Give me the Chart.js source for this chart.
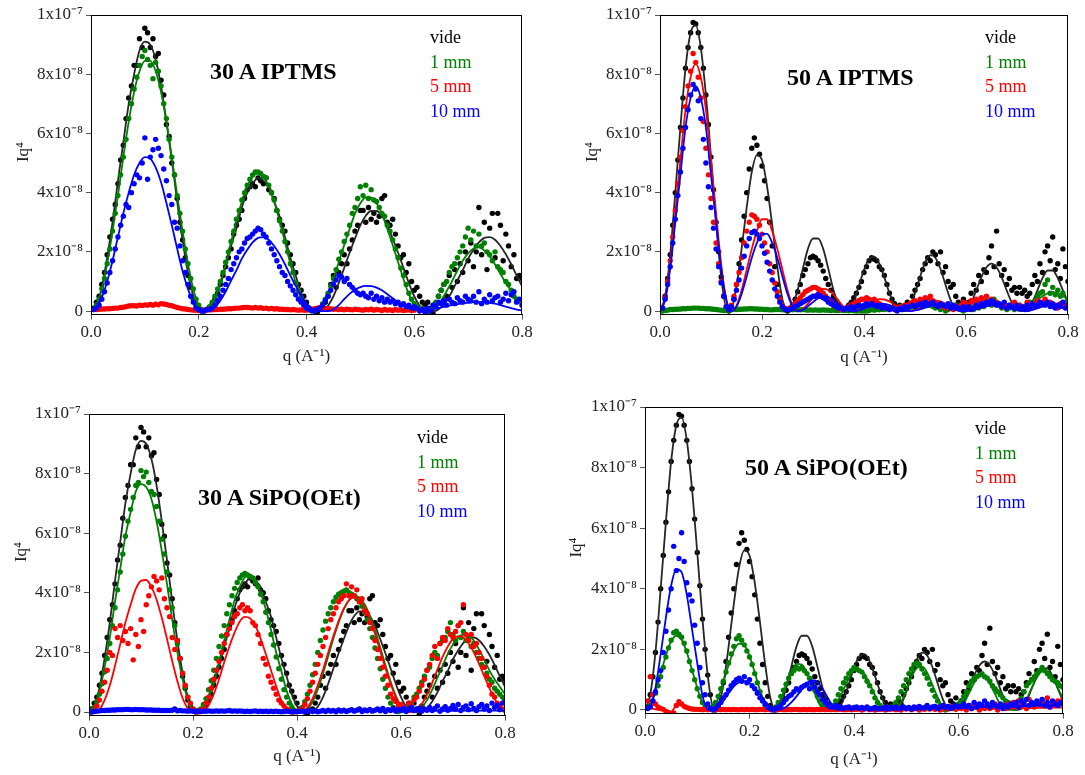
<!DOCTYPE html>
<html><head><meta charset="utf-8">
<script src="https://cdn.jsdelivr.net/npm/chart.js@4.4.1/dist/chart.umd.min.js"></script>
<style>
html,body{margin:0;padding:0;background:#fff;}
body{width:1085px;height:775px;position:relative;overflow:hidden;font-family:"Liberation Serif","Times New Roman",serif;}
canvas{position:absolute;}
.lbl{position:absolute;white-space:nowrap;line-height:1;transform:translateY(-50%);}
.ttl{font-weight:bold;font-size:24px;color:#000;}
.leg{font-size:18px;}
</style></head><body>
<script>
// ---------- DATA (y values in units of 1e-8) ----------
const xTickVals = [0, 0.2, 0.4, 0.6, 0.8];
const xTickLabels = ['0.0', '0.2', '0.4', '0.6', '0.8'];
const yTickVals = [0, 2, 4, 6, 8, 10];
const yTickLabels = ['0', '2x10⁻⁸', '4x10⁻⁸', '6x10⁻⁸', '8x10⁻⁸', '1x10⁻⁷'];
const seriesNames = ['vide', '1 mm', '5 mm', '10 mm'];
const panelTitles = ['30 A IPTMS', '50 A IPTMS', '30 A SiPO(OEt)', '50 A SiPO(OEt)'];

// q of measured points
const qPts = [
0.005,0.01,0.015,0.02,0.025,0.03,0.035,0.04,0.045,0.05,
0.055,0.06,0.065,0.07,0.075,0.08,0.085,0.09,0.095,0.1,
0.105,0.11,0.115,0.12,0.125,0.13,0.135,0.14,0.145,0.15,
0.155,0.16,0.165,0.17,0.175,0.18,0.185,0.19,0.195,0.2,
0.205,0.21,0.215,0.22,0.225,0.23,0.235,0.24,0.245,0.25,
0.255,0.26,0.265,0.27,0.275,0.28,0.285,0.29,0.295,0.3,
0.305,0.31,0.315,0.32,0.325,0.33,0.335,0.34,0.345,0.35,
0.355,0.36,0.365,0.37,0.375,0.38,0.385,0.39,0.395,0.4,
0.405,0.41,0.415,0.42,0.425,0.43,0.435,0.44,0.445,0.45,
0.455,0.46,0.465,0.47,0.475,0.48,0.485,0.49,0.495,0.5,
0.505,0.51,0.515,0.52,0.525,0.53,0.535,0.54,0.545,0.55,
0.555,0.56,0.565,0.57,0.575,0.58,0.585,0.59,0.595,0.6,
0.605,0.61,0.615,0.62,0.625,0.63,0.635,0.64,0.645,0.65,
0.655,0.66,0.665,0.67,0.675,0.68,0.685,0.69,0.695,0.7,
0.705,0.71,0.715,0.72,0.725,0.73,0.735,0.74,0.745,0.75,
0.755,0.76,0.765,0.77,0.775,0.78,0.785,0.79,0.795,0.8];

// q of fitted curves
const qFit = [
0,0.01,0.02,0.03,0.04,0.05,0.06,0.07,0.08,0.09,
0.1,0.11,0.12,0.13,0.14,0.15,0.16,0.17,0.18,0.19,
0.2,0.21,0.22,0.23,0.24,0.25,0.26,0.27,0.28,0.29,
0.3,0.31,0.32,0.33,0.34,0.35,0.36,0.37,0.38,0.39,
0.4,0.41,0.42,0.43,0.44,0.45,0.46,0.47,0.48,0.49,
0.5,0.51,0.52,0.53,0.54,0.55,0.56,0.57,0.58,0.59,
0.6,0.61,0.62,0.63,0.64,0.65,0.66,0.67,0.68,0.69,
0.7,0.71,0.72,0.73,0.74,0.75,0.76,0.77,0.78,0.79,
0.8];

// ---- vide (30 A) shared by both 30 A panels ----
const vide30Pts = [
0.1,0.3,0.5,0.9,1.3,1.9,2.5,3.1,3.6,4.3,
5.1,5.6,6.5,7.2,7.6,8.3,8.3,9.2,8.9,9.55,
9.4,8.9,9.2,8.6,8.7,7.8,7.3,6.3,5.9,5.0,
4.6,3.8,3.0,2.4,1.8,1.2,0.8,0.4,0.2,0.05,
0.0,0.02,0.05,0.1,0.25,0.4,0.6,0.9,1.2,1.5,
1.8,2.1,2.6,2.9,3.1,3.4,3.8,4.1,4.2,4.3,
4.2,4.5,4.4,4.3,4.5,4.1,4.0,3.8,3.4,3.1,
2.9,2.7,2.3,1.9,1.6,1.3,0.9,0.7,0.5,0.3,
0.1,0.05,0.0,-0.05,0.05,0.1,0.3,0.5,0.9,1.2,
0.8,1.3,1.6,1.9,1.6,2.1,2.4,2.7,2.9,3.4,
3.4,3.0,3.5,3.1,3.3,3.0,3.2,3.8,3.9,3.0,
2.9,3.1,2.6,2.2,1.8,1.9,1.3,1.6,1.0,0.7,
0.8,0.5,0.3,0.2,0.3,0.1,-0.1,0.2,0.5,0.7,
0.9,0.5,1.2,0.8,1.4,1.0,1.6,1.3,2.0,1.7,
2.3,1.5,2.0,3.5,1.9,3.0,1.4,2.8,3.3,1.8,
3.3,2.9,1.7,2.6,2.2,1.5,1.9,1.1,1.2,1.1];
const vide30Fit = [
0,0.2,0.8,1.8,3.0,4.4,5.7,7.0,8.0,8.8,
9.1,9.0,8.5,7.6,6.4,5.1,3.7,2.4,1.3,0.5,
0.05,0,0.1,0.4,0.9,1.5,2.2,2.8,3.5,4.0,
4.3,4.5,4.4,4.2,3.7,3.2,2.5,1.8,1.2,0.6,
0.2,0,0,0.02,0.18,0.5,0.95,1.46,1.97,2.45,
2.9,3.22,3.38,3.38,3.22,2.9,2.45,1.97,1.46,0.95,
0.5,0.18,0.02,0,0.01,0.13,0.35,0.66,1.03,1.38,
1.77,2.07,2.32,2.47,2.5,2.41,2.2,1.92,1.58,1.2,
0.85];

// ---- vide (50 A) shared by both 50 A panels ----
const vide50Pts = [
0.1,0.5,1.1,1.9,2.9,4.0,5.1,6.2,7.2,8.2,
8.9,9.4,9.75,9.7,9.4,8.9,8.2,7.3,6.3,5.2,
4.1,3.0,2.0,1.15,0.5,0.1,0.0,0.1,0.4,0.9,
1.6,2.4,3.2,4.0,4.8,5.5,5.85,5.6,5.3,4.9,
4.4,3.8,3.0,2.2,1.5,0.9,0.45,0.15,0.05,0.0,
0.1,0.2,0.4,0.65,0.9,1.2,1.4,1.6,1.8,1.85,
1.8,1.7,1.55,1.35,1.1,0.9,0.7,0.5,0.35,0.2,
0.1,0.05,0.1,0.2,0.3,0.45,0.6,0.8,1.0,1.3,
1.5,1.7,1.8,1.75,1.7,1.5,1.4,1.2,0.9,0.6,
0.4,0.25,0.1,0.2,0.05,0.15,0.3,0.2,0.5,0.7,
0.9,1.1,1.4,1.6,1.8,1.7,2.0,1.9,1.6,2.0,
1.3,1.5,1.0,0.8,0.9,0.5,0.3,0.2,0.4,0.1,
0.3,0.6,0.9,0.7,1.2,1.0,1.4,1.3,1.8,2.2,
1.5,2.7,1.6,1.2,1.4,0.9,1.1,0.7,0.8,0.6,
0.8,0.6,0.7,0.5,0.6,0.9,1.2,1.0,1.6,1.3,
2.0,2.2,1.7,2.5,1.4,1.6,1.1,2.1,1.5,1.0];
const vide50Fit = [
0,0.5,1.9,4.0,6.2,8.2,9.4,9.66,8.9,7.3,
5.2,3.0,1.15,0.13,0.1,0.85,2.1,3.5,4.7,5.27,
5.1,4.2,2.9,1.5,0.39,0,0.2,0.72,1.43,2.1,
2.45,2.45,2.1,1.43,0.72,0.2,0,0.04,0.35,0.85,
1.39,1.76,1.84,1.6,1.13,0.6,0.16,0,0,0.17,
0.6,1.16,1.65,1.89,1.8,1.42,0.88,0.36,0.04,0,
0.03,0.28,0.69,1.14,1.47,1.6,1.47,1.14,0.69,0.28,
0.03,0,0.03,0.29,0.7,1.11,1.37,1.37,1.11,0.7,
0.29];

// ---- 30 A IPTMS ----
const g30aPts = [
0.05,0.2,0.4,0.75,1.1,1.6,2.1,2.7,3.3,3.9,
4.6,5.2,5.8,6.5,7.0,7.5,7.9,8.3,8.6,8.8,
8.5,8.3,7.85,8.4,8.1,7.6,7.0,6.5,5.8,5.2,
4.6,3.9,3.3,2.7,2.1,1.6,1.1,0.75,0.4,0.2,
0.05,0.0,0.05,0.15,0.3,0.5,0.75,1.0,1.3,1.65,
2.0,2.35,2.7,3.1,3.4,3.75,4.0,4.25,4.45,4.6,
4.7,4.7,4.65,4.55,4.5,4.25,4.0,3.75,3.4,3.05,
2.7,2.35,2.0,1.6,1.3,0.95,0.7,0.45,0.25,0.1,
0.05,0.0,0.0,0.05,0.1,0.25,0.4,0.6,0.85,1.1,
1.4,1.75,2.0,2.35,2.6,2.9,3.3,3.5,3.8,4.2,
3.9,4.25,3.8,4.1,3.75,3.7,3.5,3.3,3.2,2.9,
2.7,2.4,2.1,1.8,1.45,1.2,0.9,0.6,0.4,0.25,
0.15,0.05,0.1,0.0,-0.05,0.05,0.2,0.3,0.5,0.7,
0.9,1.0,1.3,1.5,1.6,1.8,2.0,2.2,2.5,2.8,
2.4,2.7,2.2,2.6,2.2,2.3,2.0,1.9,1.7,2.0,
1.5,1.4,1.3,1.0,0.9,0.7,0.5,0.4,0.35,0.3];
const g30aFit = [
0,0.19,0.74,1.6,2.7,3.9,5.2,6.4,7.4,8.1,
8.45,8.45,8.1,7.4,6.4,5.2,3.9,2.7,1.6,0.74,
0.19,0,0.11,0.44,0.96,1.6,2.33,3.05,3.69,4.2,
4.54,4.65,4.54,4.2,3.69,3.05,2.33,1.6,0.96,0.44,
0.11,0,0.02,0.21,0.56,1.08,1.66,2.23,2.77,3.29,
3.64,3.83,3.83,3.64,3.29,2.77,2.23,1.66,1.08,0.56,
0.21,0.02,0,0.02,0.14,0.36,0.67,1.0,1.37,1.7,
1.95,2.11,2.15,2.05,1.85,1.57,1.25,0.95,0.68,0.45,
0.3];
const r30aPts = [
0.05,0.05,0.06,0.07,0.07,0.08,0.08,0.09,0.1,0.1,
0.12,0.13,0.15,0.17,0.18,0.18,0.17,0.2,0.19,0.21,
0.2,0.22,0.2,0.23,0.21,0.25,0.24,0.22,0.2,0.18,
0.15,0.12,0.1,0.08,0.07,0.05,0.04,0.03,0.03,0.02,
0.02,0.03,0.03,0.04,0.04,0.05,0.05,0.06,0.06,0.07,
0.08,0.08,0.09,0.1,0.1,0.11,0.12,0.12,0.11,0.1,
0.12,0.1,0.11,0.09,0.1,0.08,0.09,0.07,0.08,0.06,
0.06,0.05,0.05,0.04,0.05,0.04,0.03,0.04,0.03,0.03,
0.04,0.06,0.08,0.1,0.12,0.1,0.09,0.08,0.07,0.06,
0.07,0.05,0.06,0.04,0.06,0.05,0.04,0.06,0.05,0.04,
0.03,0.05,0.04,0.06,0.03,0.05,0.04,0.02,0.05,0.03,
0.04,0.02,0.05,0.03,0.04,0.02,0.03,0.04,0.02,0.03,
null,null,null,null,null,null,null,null,null,null,
null,null,null,null,null,null,null,null,null,null,
null,null,null,null,null,null,null,null,null,null,
null,null,null,null,null,null,null,null,null,null];
const r30aFit = [
0.05,0.06,0.07,0.08,0.09,0.1,0.12,0.15,0.17,0.18,
0.2,0.21,0.22,0.23,0.22,0.18,0.12,0.08,0.05,0.04,
0.03,0.03,0.04,0.05,0.06,0.07,0.08,0.09,0.1,0.1,
0.1,0.1,0.09,0.09,0.08,0.07,0.06,0.05,0.04,0.04,
0.04,0.05,0.07,0.09,0.1,0.09,0.08,0.07,0.06,0.05,
0.05,0.04,0.04,0.04,0.04,0.03,0.03,0.03,0.03,0.03,
0.03,null,null,null,null,null,null,null,null,null,
null,null,null,null,null,null,null,null,null,null,
null];
const b30aPts = [
0.05,0.1,0.2,0.4,0.65,0.95,1.3,1.7,2.1,2.5,
2.9,3.2,3.6,3.5,4.0,4.3,4.6,4.5,5.0,5.85,
4.45,5.2,5.45,5.8,5.5,5.25,4.8,4.4,3.9,3.6,
3.0,2.8,2.2,1.7,1.3,0.9,0.5,0.3,0.1,0.05,
0.0,0.0,0.05,0.05,0.1,0.2,0.35,0.5,0.7,0.9,
1.1,1.4,1.6,1.8,2.0,2.1,2.3,2.45,2.5,2.6,
2.7,2.8,2.75,2.6,2.5,2.3,2.1,1.9,1.7,1.5,
1.3,1.2,1.0,0.85,0.7,0.55,0.4,0.3,0.2,0.1,
0.05,0.02,0.0,0.05,0.1,0.2,0.35,0.5,0.7,0.9,
1.05,1.2,1.15,1.0,1.1,0.9,0.8,0.7,0.6,0.55,
0.6,0.5,0.45,0.6,0.4,0.5,0.35,0.45,0.3,0.4,
0.3,0.35,0.25,0.3,0.2,0.25,0.15,0.2,0.1,0.15,
0.1,0.0,0.05,-0.05,0.1,0.0,0.2,0.15,0.3,0.25,
0.35,0.2,0.4,0.3,0.25,0.45,0.35,0.3,0.5,0.4,
0.35,0.5,0.3,0.65,0.25,0.4,0.3,0.55,0.35,0.45,
0.5,0.3,0.4,0.6,0.35,0.55,0.65,0.3,0.4,0.2];
const b30aFit = [
0,0.11,0.46,1.0,1.7,2.5,3.3,4.0,4.6,5.0,
5.2,5.15,4.85,4.35,3.65,2.9,2.1,1.35,0.75,0.3,
0.03,0,0.01,0.13,0.35,0.66,1.03,1.38,1.77,2.07,
2.32,2.47,2.5,2.41,2.2,1.92,1.58,1.2,0.85,0.52,
0.26,0.09,0,0,0,0.05,0.2,0.4,0.58,0.72,
0.81,0.85,0.84,0.79,0.7,0.57,0.43,0.3,0.18,0.1,
0.05,0.03,0.02,0.05,0.08,0.12,0.16,0.2,0.23,0.26,
0.28,0.3,0.3,0.3,0.28,0.25,0.2,0.15,0.1,0.05,
0.02];

// ---- 50 A IPTMS ----
const g50aPts = [
0.0,0.02,0.03,0.05,0.05,0.06,0.06,0.07,0.08,0.08,
0.09,0.09,0.1,0.1,0.1,0.09,0.09,0.08,0.08,0.07,
0.06,0.05,0.04,0.03,0.02,0.02,0.03,0.04,0.05,0.05,
0.06,0.06,0.07,0.07,0.08,0.08,0.07,0.07,0.06,0.06,
0.05,0.05,0.04,0.04,0.05,0.05,0.05,0.04,0.04,0.04,
0.05,0.04,0.05,0.04,0.04,0.05,0.04,0.03,0.04,0.03,
0.04,0.03,0.03,0.04,0.03,0.03,0.02,0.03,0.02,0.02,
0.03,0.02,0.02,0.01,0.02,0.01,0.0,0.01,0.0,0.0,
0.0,0.02,0.05,0.03,0.05,0.04,0.06,0.05,0.08,0.06,
0.1,0.08,0.12,0.1,0.15,0.12,0.1,0.15,0.2,0.15,
0.2,0.25,0.15,0.3,0.2,0.25,0.15,0.1,0.2,0.05,
0.1,0.0,0.05,0.15,0.1,0.2,0.1,0.05,0.0,0.1,
0.1,0.15,0.05,0.2,0.1,0.25,0.15,0.3,0.35,0.2,
0.4,0.25,0.2,0.1,0.15,0.05,0.1,0.15,0.05,0.1,
0.2,0.1,0.15,0.25,0.3,0.2,0.35,0.5,0.6,0.65,
0.9,1.05,0.6,0.8,0.55,0.7,0.5,0.6,0.3,0.4];
const g50aFit = [
0,0.03,0.05,0.06,0.07,0.08,0.09,0.09,0.09,0.08,
0.07,0.06,0.04,0.03,0.03,0.04,0.05,0.06,0.06,0.07,
0.07,0.06,0.05,0.05,0.04,0.04,0.04,0.04,0.04,0.04,
0.04,0.04,0.03,0.03,0.03,0.03,0.03,0.02,0.02,0.02,
0.02,0.02,0.02,0.02,0.03,0.03,0.04,0.05,0.06,0.07,
0.08,0.1,0.12,0.14,0.15,0.15,0.14,0.12,0.1,0.09,
0.1,0.12,0.14,0.16,0.18,0.19,0.18,0.16,0.14,0.12,
0.12,0.15,0.2,0.28,0.38,0.5,0.6,0.65,0.6,0.5,
0.4];
const r50aPts = [
0.1,0.45,1.0,1.7,2.5,3.4,4.3,5.2,6.1,6.9,
7.6,8.1,8.7,8.4,7.9,7.2,6.4,5.5,4.6,3.8,
3.0,2.3,1.6,1.0,0.5,0.15,0.05,0.2,0.5,0.9,
1.3,1.8,2.3,2.7,3.0,3.25,3.2,3.1,2.9,2.6,
2.3,2.0,1.6,1.3,0.95,0.65,0.4,0.2,0.1,0.05,
0.1,0.15,0.25,0.35,0.45,0.55,0.65,0.7,0.75,0.8,
0.8,0.75,0.7,0.6,0.5,0.4,0.3,0.2,0.15,0.1,
0.05,0.05,0.1,0.15,0.2,0.25,0.3,0.35,0.4,0.4,
0.45,0.4,0.35,0.4,0.3,0.25,0.2,0.15,0.1,0.05,
0.1,0.05,0.1,0.15,0.1,0.2,0.15,0.25,0.3,0.35,
0.3,0.4,0.35,0.45,0.4,0.5,0.35,0.3,0.2,0.25,
0.15,0.1,0.2,0.1,0.05,0.15,0.1,0.2,0.3,0.25,
0.2,0.35,0.3,0.4,0.3,0.45,0.35,0.5,0.3,0.4,
0.25,0.3,0.2,0.15,0.25,0.1,0.2,0.15,0.3,0.1,
0.2,0.1,0.15,0.3,0.2,0.1,0.25,0.35,0.2,0.3,
0.4,0.25,0.3,0.15,0.2,0.1,0.25,0.15,0.2,0.1];
const r50aFit = [
0,0.4,1.57,3.3,5.1,6.8,7.9,8.35,7.9,6.8,
5.1,3.3,1.57,0.4,0,0.18,0.7,1.4,2.1,2.7,
3.1,3.1,2.7,2.1,1.4,0.7,0.18,0,0.07,0.24,
0.46,0.65,0.75,0.71,0.56,0.35,0.14,0.02,0,0.03,
0.12,0.24,0.34,0.4,0.39,0.32,0.21,0.1,0.03,0,
0.03,0.1,0.2,0.3,0.35,0.33,0.25,0.15,0.06,0.01,
0,0.03,0.09,0.17,0.25,0.29,0.3,0.26,0.19,0.11,
0.05,0.01,0,0.05,0.12,0.2,0.25,0.26,0.22,0.15,
0.08];
const b50aPts = [
0.1,0.4,0.9,1.5,2.3,3.1,3.9,4.7,5.5,6.2,
6.8,7.3,7.65,7.5,7.1,6.5,5.8,5.0,4.2,3.5,
2.8,2.1,1.5,0.95,0.5,0.15,0.05,0.15,0.4,0.7,
1.05,1.45,1.85,2.2,2.45,2.65,2.7,2.6,2.45,2.2,
1.95,1.65,1.35,1.05,0.75,0.5,0.3,0.15,0.05,0.05,
0.05,0.1,0.15,0.2,0.25,0.3,0.35,0.4,0.45,0.5,
0.5,0.55,0.5,0.45,0.4,0.3,0.25,0.2,0.15,0.1,
0.1,0.05,0.1,0.1,0.15,0.1,0.15,0.2,0.15,0.2,
0.25,0.2,0.25,0.2,0.15,0.2,0.1,0.15,0.1,0.05,
0.1,0.05,0.0,0.1,0.05,0.15,0.1,0.15,0.2,0.15,
0.2,0.25,0.15,0.3,0.2,0.25,0.3,0.2,0.15,0.25,
0.2,0.15,0.25,0.1,0.2,0.15,0.1,0.05,0.15,0.1,
0.15,0.05,0.1,0.2,0.15,0.25,0.2,0.3,0.25,0.35,
0.3,0.2,0.25,0.15,0.3,0.1,0.2,0.15,0.1,0.2,
0.1,0.15,0.05,0.2,0.1,0.25,0.15,0.2,0.3,0.25,
0.2,0.3,0.15,0.25,0.1,0.2,0.15,0.3,0.1,0.2];
const b50aFit = [
0,0.37,1.43,3.0,4.6,6.2,7.2,7.6,7.2,6.2,
4.6,3.0,1.43,0.37,0,0.15,0.58,1.17,1.8,2.3,
2.61,2.61,2.3,1.8,1.17,0.58,0.15,0,0.04,0.16,
0.3,0.43,0.5,0.47,0.37,0.23,0.09,0.01,0,0.02,
0.08,0.15,0.21,0.25,0.24,0.2,0.13,0.06,0.02,0,
0.02,0.06,0.12,0.18,0.22,0.21,0.16,0.1,0.04,0.01,
0,0.02,0.06,0.11,0.16,0.19,0.2,0.17,0.13,0.07,
0.03,0.01,0,0.04,0.09,0.15,0.19,0.2,0.17,0.12,
0.06];

// ---- 30 A SiPO(OEt) ----
const g30bPts = [
0.05,0.15,0.35,0.6,0.95,1.35,1.8,2.3,2.9,3.5,
4.1,4.7,5.3,5.9,6.4,6.8,7.2,7.6,7.7,8.1,
7.9,8.05,7.7,7.4,7.3,6.9,6.4,5.8,5.3,4.7,
4.1,3.5,2.9,2.3,1.8,1.3,0.85,0.5,0.25,0.1,
0.02,0.05,0.1,0.25,0.45,0.75,1.05,1.4,1.8,2.2,
2.55,2.9,3.3,3.6,3.9,4.15,4.35,4.5,4.6,4.65,
4.6,4.55,4.5,4.35,4.2,3.95,3.7,3.35,3.0,2.6,
2.25,1.85,1.45,1.1,0.75,0.5,0.3,0.15,0.05,0.02,
0.05,0.15,0.35,0.6,0.9,1.25,1.6,2.0,2.4,2.75,
3.05,3.3,3.5,3.7,3.85,3.95,4.0,4.05,4.1,4.0,
3.95,3.9,3.8,3.7,3.55,3.35,3.1,2.8,2.5,2.15,
1.8,1.45,1.1,0.8,0.5,0.3,0.15,0.05,0.02,0.05,
0.05,0.1,0.2,0.3,0.5,0.6,0.8,1.0,1.2,1.4,
1.5,1.8,2.0,1.9,2.3,2.4,2.5,2.7,3.0,2.6,
2.4,2.9,2.5,2.7,2.4,2.5,2.2,2.3,2.0,1.8,
1.6,1.5,1.3,1.1,1.0,0.8,0.7,0.6,0.5,0.4];
const g30bFit = [
0,0.17,0.67,1.5,2.5,3.7,4.8,5.9,6.7,7.4,
7.65,7.55,7.15,6.4,5.4,4.3,3.1,2.0,1.1,0.42,
0.04,0,0.12,0.46,1.0,1.67,2.4,3.1,3.75,4.2,
4.53,4.59,4.4,4.0,3.45,2.75,2.0,1.37,0.71,0.27,
0.03,0,0.09,0.35,0.76,1.29,1.87,2.47,3.0,3.45,
3.76,3.9,3.85,3.62,3.24,2.75,2.17,1.58,1.02,0.54,
0.2,0.02,0,0.02,0.15,0.4,0.75,1.15,1.55,1.95,
2.27,2.5,2.6,2.56,2.4,2.1,1.76,1.4,1.1,0.85,
0.6];
const r30bPts = [
0.0,0.05,0.2,0.4,0.7,1.0,1.4,2.0,1.9,2.8,
2.5,2.9,2.4,2.7,2.3,2.8,1.75,2.6,2.2,3.1,
2.7,3.6,3.9,4.2,4.55,4.4,4.1,4.5,3.8,3.5,
3.2,2.5,2.1,2.4,1.8,1.3,0.9,0.5,0.3,0.1,
0.02,0.0,0.05,0.1,0.3,0.5,0.8,1.1,1.4,1.7,
2.0,2.3,2.6,2.8,3.0,3.2,3.3,3.5,3.6,3.4,
3.5,3.4,3.0,2.9,2.6,2.3,1.8,1.6,1.2,1.0,
0.8,0.6,0.4,0.3,0.2,0.1,0.05,0.0,0.0,0.02,
0.05,0.1,0.25,0.45,0.7,1.0,1.3,1.6,1.9,2.2,
2.5,2.8,3.1,3.3,3.5,3.7,3.8,3.9,4.3,3.9,
4.2,3.9,4.1,3.7,3.8,3.4,3.3,3.0,2.8,2.4,
2.1,1.8,1.5,1.2,0.9,0.6,0.45,0.35,0.2,0.25,
0.15,0.1,0.3,0.2,0.4,0.5,0.7,0.9,1.1,1.4,
1.6,1.9,2.2,1.8,2.3,2.5,2.4,2.8,2.6,2.5,
2.7,2.9,3.0,3.6,2.6,2.4,2.6,2.2,2.3,2.0,
1.8,1.5,1.2,0.9,0.6,0.5,0.3,0.2,0.1,0.05];
const r30bFit = [
0,0,0.08,0.4,0.89,1.55,2.27,3.0,3.6,4.13,
4.4,4.43,4.2,3.77,3.16,2.45,1.71,1.03,0.47,0.12,
0,0,0.03,0.23,0.6,1.1,1.67,2.2,2.67,3.04,
3.19,3.14,2.9,2.46,1.95,1.4,0.86,0.39,0.1,0,
0,0.02,0.15,0.45,0.9,1.42,2.0,2.55,3.05,3.47,
3.75,3.85,3.78,3.52,3.12,2.62,2.05,1.48,0.95,0.5,
0.17,0.02,0,0.07,0.27,0.58,0.98,1.42,1.85,2.2,
2.45,2.55,2.5,2.3,2.0,1.62,1.2,0.8,0.44,0.17,
0.03];
const b30bPts = [
0.0,0.02,0.03,0.04,0.05,0.05,0.06,0.06,0.07,0.07,
0.08,0.08,0.08,0.09,0.09,0.08,0.08,0.09,0.08,0.08,
0.08,0.07,0.07,0.07,0.06,0.06,0.06,0.05,0.05,0.05,
0.05,0.06,0.1,0.04,0.05,0.04,0.04,0.03,0.04,0.03,
0.03,0.03,0.02,0.03,0.03,0.04,0.03,0.03,0.04,0.03,
0.04,0.03,0.04,0.05,0.03,0.04,0.03,0.04,0.03,0.02,
0.03,0.02,0.03,0.04,0.02,0.03,0.02,0.03,0.02,0.03,
0.02,0.03,0.02,0.01,0.02,0.03,0.02,0.01,0.02,0.01,
0.02,0.04,0.01,0.03,0.05,0.02,0.04,0.01,0.03,0.05,
0.02,0.06,0.03,0.05,0.01,0.07,0.03,0.06,0.02,0.05,
0.08,0.03,0.06,0.1,0.02,0.07,0.04,0.09,0.03,0.06,
0.1,0.04,0.12,0.02,0.08,0.05,0.11,0.03,0.09,0.06,
0.12,0.02,0.1,0.15,0.05,0.08,0.13,0.03,0.1,0.06,
0.15,0.05,0.12,0.2,0.03,0.1,0.18,0.06,0.12,0.22,
0.1,0.25,0.05,0.15,0.2,0.08,0.28,0.12,0.05,0.18,
0.25,0.1,0.2,0.05,0.3,0.15,0.22,0.08,0.3,0.35];
const b30bFit = [
0.02,0.03,0.04,0.05,0.05,0.06,0.06,0.06,0.06,0.06,
0.06,0.06,0.06,0.05,0.05,0.05,0.05,0.04,0.04,0.04,
0.04,0.04,0.04,0.04,0.04,0.04,0.04,0.04,0.04,0.04,
0.04,0.04,0.03,0.03,0.03,0.03,0.03,0.03,0.03,0.03,
0.03,0.03,0.03,0.03,0.03,0.03,0.03,0.03,0.03,0.03,
0.03,0.03,0.03,0.03,0.03,0.03,0.03,0.03,0.03,0.03,
0.03,0.03,0.03,0.03,0.04,0.04,0.04,0.04,0.04,0.04,
0.04,0.04,0.05,0.05,0.05,0.05,0.05,0.05,0.05,0.05,
0.05];

// ---- 50 A SiPO(OEt) ----
const g50bPts = [
0.05,0.15,0.3,0.55,0.8,1.1,1.4,1.75,2.05,2.3,
2.55,2.6,2.5,2.4,2.2,1.95,1.6,1.3,1.0,0.7,
0.45,0.25,0.1,0.05,0.02,0.1,0.25,0.45,0.7,0.95,
1.25,1.55,1.85,2.1,2.35,2.45,2.3,2.15,1.95,1.75,
1.5,1.2,0.9,0.6,0.35,0.15,0.05,0.02,0.02,0.1,
0.25,0.45,0.65,0.85,1.05,1.2,1.3,1.4,1.35,1.4,
1.3,1.2,1.05,0.85,0.65,0.45,0.3,0.15,0.05,0.02,
0.05,0.15,0.3,0.5,0.7,0.9,1.05,1.2,1.3,1.4,
1.35,1.3,1.25,1.1,0.95,0.8,0.6,0.4,0.25,0.15,
0.05,0.02,0.05,0.1,0.1,0.25,0.4,0.6,0.8,1.0,
1.2,1.35,1.5,1.55,1.5,1.35,1.2,1.05,0.85,0.65,
0.45,0.3,0.15,0.05,0.0,0.05,0.1,0.05,0.1,0.2,
0.3,0.45,0.6,0.8,0.95,1.05,1.1,1.15,1.2,1.1,
1.05,0.95,0.8,0.7,0.6,0.5,0.4,0.3,0.25,0.2,
0.15,0.2,0.3,0.4,0.6,0.8,0.9,1.0,1.1,1.2,
1.3,1.4,1.3,1.2,1.1,1.0,0.95,0.9,0.8,0.75];
const g50bFit = [
0,0.16,0.62,1.2,1.8,2.26,2.45,2.32,1.9,1.32,
0.73,0.23,0.01,0.06,0.38,0.93,1.48,1.96,2.19,2.13,
1.79,1.24,0.66,0.22,0.01,0.05,0.36,0.81,1.25,1.52,
1.5,1.21,0.76,0.33,0.04,0,0.07,0.32,0.68,1.04,
1.31,1.34,1.19,0.86,0.5,0.18,0.01,0,0.02,0.26,
0.65,1.09,1.38,1.44,1.23,0.83,0.42,0.09,0,0,
0.01,0.21,0.55,0.9,1.13,1.12,0.86,0.52,0.17,0,
0,0,0.09,0.35,0.72,1.07,1.27,1.28,1.09,0.74,
0.36];
const r50bPts = [
0.3,1.1,0.5,0.2,0.1,0.05,0.02,-0.05,-0.1,-0.2,
-0.1,0.15,0.27,0.2,0.12,0.08,0.05,0.03,0.02,0.02,
0.02,0.01,0.02,0.01,0.02,0.01,0.02,0.02,0.01,0.02,
0.01,0.02,0.01,0.02,0.01,0.01,0.02,0.01,0.02,0.01,
0.02,0.01,0.01,0.02,0.02,0.01,0.02,0.01,0.01,0.02,
0.01,0.02,0.01,0.01,0.02,0.01,0.02,0.02,0.01,0.01,
0.02,0.01,0.02,0.01,0.01,0.02,0.01,0.02,0.01,0.02,
0.01,0.02,0.01,0.02,0.02,0.01,0.01,0.02,0.01,0.02,
0.02,0.04,0.0,0.03,0.05,0.01,0.03,0.0,0.04,0.02,
0.03,0.0,0.05,0.02,0.06,0.01,0.04,0.0,0.05,0.03,
0.06,0.01,0.04,0.08,0.0,0.05,0.02,0.07,0.03,0.06,
0.02,0.08,0.0,0.05,0.1,0.03,0.06,0.12,0.02,0.08,
0.05,0.1,0.0,0.15,0.05,0.2,0.1,0.0,0.1,0.05,
0.15,0.05,0.1,0.2,0.0,0.1,0.15,0.05,0.2,0.1,
0.25,0.1,0.3,0.15,0.2,0.05,0.35,0.2,0.1,0.25,
0.15,0.3,0.2,0.4,0.1,0.25,0.15,0.3,0.2,0.35];
const r50bFit = [
0,0.05,0.02,0,0,-0.05,0.15,0.22,0.08,0.03,
0.01,0.01,0.01,0.01,0.01,0.01,0.01,0.01,0.01,0.01,
0.01,0.01,0.01,0.01,0.01,0.01,0.01,0.01,0.01,0.01,
0.01,0.01,0.01,0.01,0.01,0.01,0.01,0.01,0.01,0.01,
0.01,0.01,0.01,0.01,0.02,0.02,0.02,0.02,0.02,0.02,
0.02,0.02,0.02,0.02,0.02,0.03,0.03,0.03,0.03,0.03,
0.03,0.03,0.03,0.04,0.04,0.04,0.04,0.04,0.05,0.05,
0.05,0.05,0.06,0.06,0.06,0.07,0.07,0.07,0.08,0.08,
0.08];
const b50bPts = [
0.05,0.1,0.3,0.6,1.0,1.3,1.9,2.6,3.3,4.0,
5.4,4.6,5.0,5.85,4.9,4.2,3.8,3.6,2.8,2.2,
1.4,0.9,0.5,0.2,0.05,0.0,0.05,0.15,0.25,0.4,
0.5,0.65,0.8,0.9,1.0,1.05,0.95,1.1,0.9,1.0,
0.8,0.7,0.55,0.4,0.3,0.2,0.1,0.05,0.0,0.05,
0.1,0.15,0.25,0.35,0.45,0.5,0.6,0.7,0.65,0.75,
0.8,0.85,0.7,0.9,0.75,0.6,0.5,0.35,0.25,0.15,
0.1,0.1,0.15,0.1,0.1,0.05,0.08,0.1,0.05,0.08,
0.1,0.05,0.08,0.05,0.1,0.03,0.05,0.08,0.03,0.05,
0.05,0.1,0.03,0.08,0.05,0.1,0.04,0.06,0.1,0.05,
0.08,0.03,0.1,0.05,0.12,0.06,0.08,0.15,0.05,0.1,
0.12,0.05,0.1,0.15,0.08,0.12,0.05,0.1,0.15,0.1,
0.12,0.2,0.1,0.15,0.05,0.25,0.1,0.2,0.15,0.3,
0.2,0.1,0.25,0.15,0.1,0.2,0.05,0.15,0.1,0.2,
0.15,0.25,0.1,0.3,0.2,0.35,0.15,0.25,0.2,0.3,
0.2,0.35,0.15,0.25,0.1,0.3,0.2,0.15,0.25,0.2];
const b50bFit = [
0,0.09,0.73,1.84,3.05,4.1,4.65,4.55,3.8,2.67,
1.55,0.48,0.01,0,0.1,0.3,0.55,0.78,0.92,0.95,
0.9,0.75,0.52,0.27,0.07,0,0.02,0.1,0.25,0.45,
0.68,0.88,0.98,0.92,0.7,0.4,0.12,0,0.02,0.05,
0.08,0.1,0.08,0.05,0.03,0.02,0.02,0.02,0.03,0.03,
0.03,0.04,0.04,0.05,0.05,0.05,0.06,0.06,0.06,0.07,
0.07,0.08,0.08,0.09,0.09,0.1,0.1,0.1,0.11,0.11,
0.12,0.12,0.12,0.13,0.13,0.14,0.14,0.15,0.15,0.15,
0.16];

// ---------- LAYOUT / STYLE ----------
const pointColors = ['#000000', '#008000', '#ff0000', '#0000ff'];
const lineColors = ['#262626', '#008000', '#ff0000', '#0000ff'];
const FONT = 'Liberation Serif';

const panels = [
  {left:0, top:0, w:545, h:385, area:{l:91, t:15, r:522, b:314.6}, qTitleY:357, yTitleX:24,
   titlePos:[210,71], legendPos:[430,37],
   series:[[vide30Pts,vide30Fit],[g30aPts,g30aFit],[r30aPts,r30aFit],[b30aPts,b30aFit]]},
  {left:545, top:0, w:540, h:385, area:{l:660, t:15, r:1068, b:314.6}, qTitleY:358, yTitleX:593,
   titlePos:[787,77], legendPos:[985,37],
   series:[[vide50Pts,vide50Fit],[g50aPts,g50aFit],[r50aPts,r50aFit],[b50aPts,b50aFit]]},
  {left:0, top:390, w:545, h:385, area:{l:89, t:414, r:505, b:715.6}, qTitleY:757, yTitleX:22,
   titlePos:[198,497], legendPos:[417,437],
   series:[[vide30Pts,vide30Fit],[g30bPts,g30bFit],[r30bPts,r30bFit],[b30bPts,b30bFit]]},
  {left:545, top:390, w:540, h:385, area:{l:645, t:407, r:1063, b:713.6}, qTitleY:760, yTitleX:577,
   titlePos:[745,467], legendPos:[975,428],
   series:[[vide50Pts,vide50Fit],[g50bPts,g50bFit],[r50bPts,r50bFit],[b50bPts,b50bFit]]}
];

const framePlugin = {
  id: 'frame',
  afterDraw(chart) {
    const {ctx, chartArea: a} = chart;
    ctx.save();
    ctx.strokeStyle = '#000';
    ctx.lineWidth = 1;
    ctx.strokeRect(Math.round(a.left) + 0.5, Math.round(a.top) + 0.5,
                   Math.round(a.right - a.left) - 1, Math.round(a.bottom - a.top) - 1);
    ctx.restore();
  }
};

function addText(cls, text, x, y, color) {
  const d = document.createElement('div');
  d.className = 'lbl ' + cls;
  d.textContent = text;
  d.style.left = x + 'px';
  d.style.top = y + 'px';
  d.style.color = color;
  document.body.appendChild(d);
}

const TITLE_LH = 17 * 1.2;

panels.forEach((p, pi) => {
  const cv = document.createElement('canvas');
  cv.width = p.w; cv.height = p.h;
  cv.style.left = p.left + 'px'; cv.style.top = p.top + 'px';
  cv.style.width = p.w + 'px'; cv.style.height = p.h + 'px';
  document.body.appendChild(cv);

  const padTop = p.area.t - p.top;
  const yW = p.area.l - p.left;
  const padRight = p.left + p.w - p.area.r;
  const xH = p.top + p.h - p.area.b;
  const qPad = (p.top + p.h - p.qTitleY) - TITLE_LH / 2;
  const yPad = (p.yTitleX - p.left) - TITLE_LH / 2;

  const datasets = [];
  p.series.forEach((s, k) => {
    datasets.push({
      label: seriesNames[k] + ' fit',
      data: qFit.map((q, i) => ({x: q, y: s[1][i]})),
      showLine: true, pointRadius: 0, borderColor: lineColors[k], borderWidth: 1.8,
      cubicInterpolationMode: 'monotone', spanGaps: false, order: 2 * (3 - k)
    });
    datasets.push({
      label: seriesNames[k],
      data: qPts.map((q, i) => ({x: q, y: s[0][i]})),
      showLine: false, pointRadius: 2.7, pointHoverRadius: 2.7, borderWidth: 0,
      backgroundColor: pointColors[k], pointBorderWidth: 0, order: 2 * (3 - k) + 1
    });
  });

  const tickFont = {family: FONT, size: 17};
  new Chart(cv, {
    type: 'scatter',
    data: {datasets},
    plugins: [framePlugin],
    options: {
      responsive: false, animation: false, devicePixelRatio: 1, events: [],
      layout: {padding: {left: 0, top: padTop, right: padRight, bottom: 0}},
      plugins: {legend: {display: false}, tooltip: {enabled: false}},
      scales: {
        x: {
          type: 'linear', position: 'bottom', min: 0, max: 0.8,
          afterBuildTicks: s => { s.ticks = xTickVals.map(v => ({value: v})); },
          afterFit: s => { s.height = xH; },
          ticks: {font: tickFont, color: '#222', padding: 3, maxRotation: 0,
                  callback: v => xTickLabels[xTickVals.indexOf(v)]},
          grid: {display: true, drawOnChartArea: false, drawTicks: true, tickLength: 5, tickColor: '#555', tickWidth: 1},
          border: {display: true, color: '#000', width: 1},
          title: {display: true, text: 'q (A⁻¹)', font: {family: FONT, size: 17}, color: '#222',
                  padding: {top: 0, bottom: qPad}}
        },
        y: {
          type: 'linear', position: 'left', min: -0.12, max: 10,
          afterBuildTicks: s => { s.ticks = yTickVals.map(v => ({value: v})); },
          afterFit: s => { s.width = yW; },
          ticks: {font: tickFont, color: '#222', padding: 3,
                  callback: v => yTickLabels[yTickVals.indexOf(v)]},
          grid: {display: true, drawOnChartArea: false, drawTicks: true, tickLength: 5, tickColor: '#555', tickWidth: 1},
          border: {display: true, color: '#000', width: 1},
          title: {display: true, text: '      Iq⁴', font: {family: FONT, size: 17}, color: '#222',
                  padding: {top: yPad, bottom: 0}}
        }
      }
    }
  });

  addText('ttl', panelTitles[pi], p.titlePos[0], p.titlePos[1], '#000');
  seriesNames.forEach((n, k) => {
    addText('leg', n, p.legendPos[0], p.legendPos[1] + k * 24.5, pointColors[k]);
  });
});
</script>
</body></html>
